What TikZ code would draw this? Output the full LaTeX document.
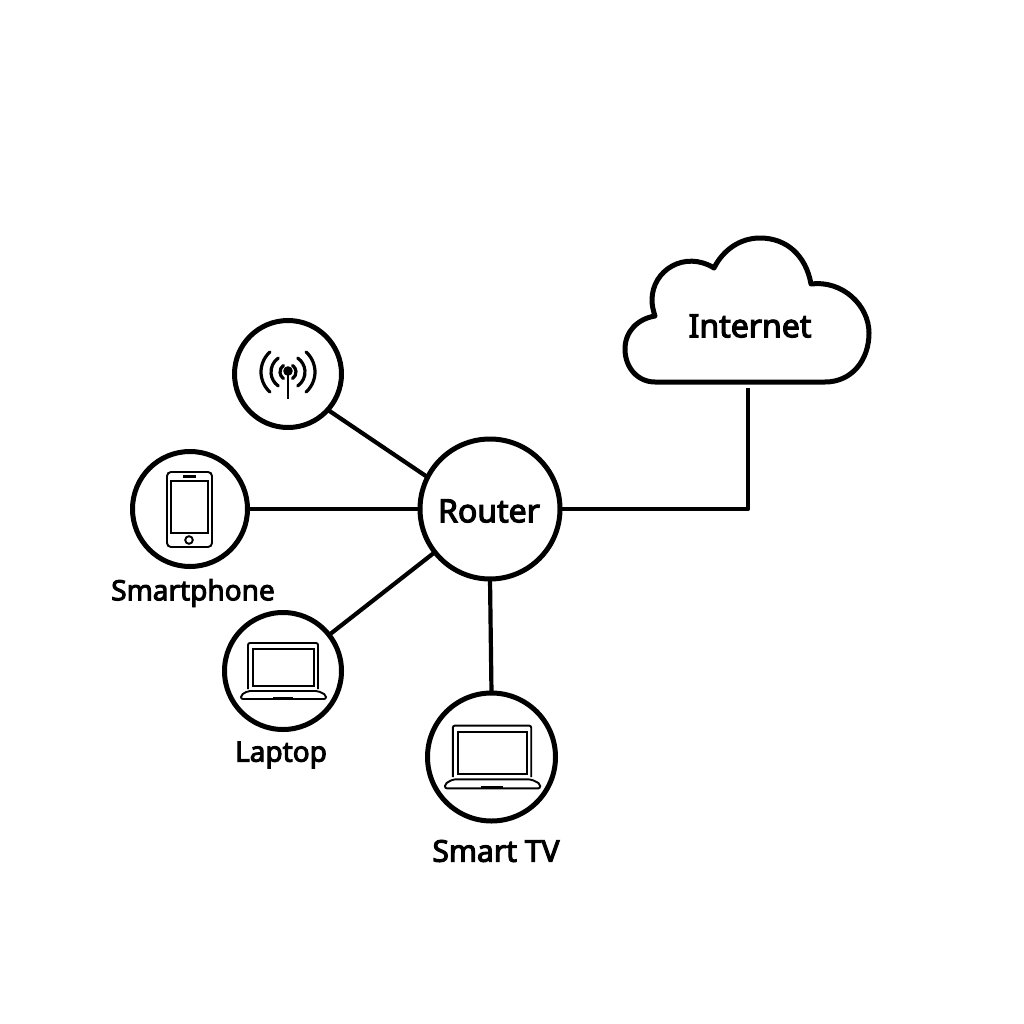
\documentclass[tikz,border=0pt]{standalone}
\usepackage{fontspec}
\setmainfont{Noto Sans}[FakeBold=3.5]
\usepackage{tikz}
\usetikzlibrary{positioning}
\tikzset{
  ring/.style={draw=black,circle,line width=5pt,outer sep=0pt,inner sep=0pt,fill=white},
  link/.style={draw=black,line width=4.2pt},
  lab/.style={font=\fontsize{28}{32}\selectfont,inner sep=0pt,text=black},
  icon/.style={draw=black,line width=1.9pt,rounded corners=2pt},
  laptop/.pic={
    \draw[icon] (-35,18) -- (-35,-28) -- (35,-28) -- (35,18);
    \draw[icon,rounded corners=0pt] (-30,-22) rectangle (31,15);
    \draw[icon] (-35,20) -- (35,20) -- (43,24) -- (43,28) -- (-42,28) -- (-42,24) -- cycle;
    \draw[line width=2.4pt] (-10,27) -- (10,27);
  },
}
\begin{document}
\begin{tikzpicture}[x=1pt,y=-1pt]
\useasboundingbox (0,0) rectangle (1024,1024);
\node[ring,minimum size=140pt] (router) at (490,509) {};
\node[ring,minimum size=107pt] (wifi) at (288,374) {};
\node[ring,minimum size=115pt] (phone) at (190,509) {};
\node[ring,minimum size=117pt] (laptop) at (283,671) {};
\node[ring,minimum size=128pt] (tv) at (491.5,757) {};
\node[lab,font=\fontsize{32}{36}\selectfont] (routerlab) at (489,511) {Router};
\node[lab] (phonelab) at (193,593) {Smartphone};
\node[lab] (laptoplab) at (281,755) {Laptop};
\node[lab,font=\fontsize{30}{34}\selectfont] (tvlab) at (496,851) {Smart TV};
% cloud
\draw[line width=5pt,line join=round,fill=white]
  (655,382) -- (825,382) .. controls (852,382) and (869,360) .. (869,333)
  .. controls (869,305) and (842,280) .. (811,284)
  .. controls (806,256) and (787,238) .. (760,238)
  .. controls (740,238) and (723,250) .. (714,268)
  .. controls (685,250) and (652,270) .. (652,300)
  .. controls (652,305) and (653,310) .. (655,316)
  .. controls (637,319) and (625,332) .. (625,349)
  .. controls (625,368) and (638,382) .. (655,382) -- cycle;
\node[lab,font=\fontsize{32}{36}\selectfont] (inet) at (750,326) {Internet};
\coordinate (cloudfoot) at (748,388);
% connectors
\draw[link,line join=round] (cloudfoot) |- (router);
\draw[link] (wifi.-42) -- (router.153);
\draw[link] (phone) -- (router);
\draw[link] (laptop) -- (router);
\draw[link] (tv.north) -- (router.south);
% antenna
\fill (288,371) circle (4.8pt);
\draw[line width=2.8pt] (288,371) -- (288,399);
\foreach \r/\a in {8/55,17/55,27/48} {
  \draw[line width=3.2pt,line cap=round] (288,372) ++(-\a:\r pt) arc[start angle=-\a,end angle=\a,radius=\r pt];
  \draw[line width=3.2pt,line cap=round] (288,372) ++(180-\a:\r pt) arc[start angle=180-\a,end angle=180+\a,radius=\r pt];
}
% phone
\draw[icon,rounded corners=4pt] (167,472) rectangle (212,547);
\draw[icon,rounded corners=0pt] (171,481) rectangle (208,533);
\draw[line width=2.4pt] (183,476.5) -- (196,476.5);
\draw[line width=1.9pt] (189,540) circle (3.8pt);
% laptops
\pic at (283,671) {laptop};
\pic[scale=1.12] at (492,757) {laptop};
\end{tikzpicture}
\end{document}
